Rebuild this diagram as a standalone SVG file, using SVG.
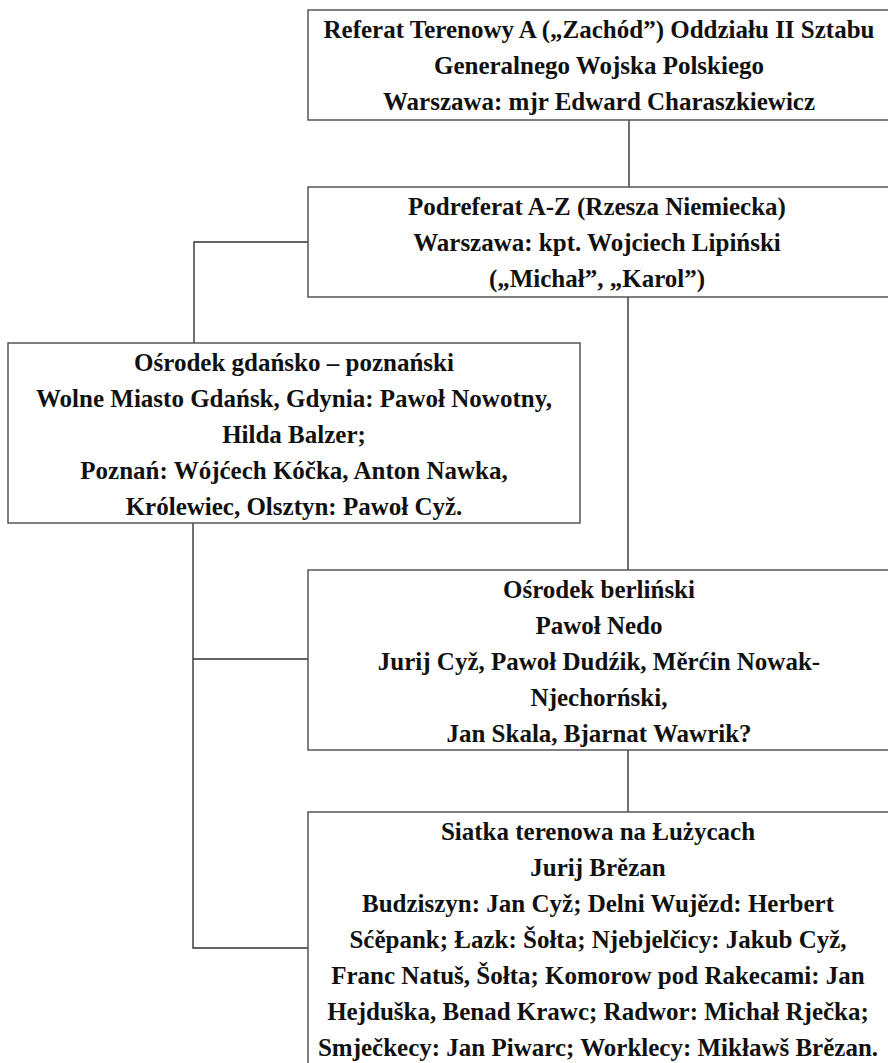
<svg xmlns="http://www.w3.org/2000/svg" width="888" height="1063" viewBox="0 0 888 1063">
<style>
.box{fill:#fff;stroke:#555;stroke-width:1.5}
.t{font-family:"Liberation Serif","Times New Roman",serif;font-weight:bold;font-size:25px;fill:#111;text-anchor:middle}
.c{fill:none;stroke:#333;stroke-width:1.4}
</style>
<rect width="888" height="1063" fill="#fff"/>
<g id="connectors">
<path class="c" d="M629,120V187"/>
<path class="c" d="M308,242H194V343"/>
<path class="c" d="M628,297V570"/>
<path class="c" d="M193,523V948H308M193,659H308"/>
<path class="c" d="M628,750V812"/>
</g>
<g id="n1">
<rect class="box" x="308" y="10" width="600" height="110"/>
<text class="t" x="599" y="38">Referat Terenowy A („Zachód”) Oddziału II Sztabu</text>
<text class="t" x="599" y="74">Generalnego Wojska Polskiego</text>
<text class="t" x="599" y="110">Warszawa: mjr Edward Charaszkiewicz</text>
</g>
<g id="n2">
<rect class="box" x="308" y="187" width="600" height="110"/>
<text class="t" x="597" y="215">Podreferat A-Z (Rzesza Niemiecka)</text>
<text class="t" x="597" y="251">Warszawa: kpt. Wojciech Lipiński</text>
<text class="t" x="597" y="287">(„Michał”, „Karol”)</text>
</g>
<g id="n3">
<rect class="box" x="8" y="343" width="572" height="180"/>
<text class="t" x="294" y="371">Ośrodek gdańsko – poznański</text>
<text class="t" x="294" y="407">Wolne Miasto Gdańsk, Gdynia: Pawoł Nowotny,</text>
<text class="t" x="294" y="443">Hilda Balzer;</text>
<text class="t" x="294" y="479">Poznań: Wójćech Kóčka, Anton Nawka,</text>
<text class="t" x="294" y="515">Królewiec, Olsztyn: Pawoł Cyž.</text>
</g>
<g id="n4">
<rect class="box" x="308" y="570" width="600" height="180"/>
<text class="t" x="599" y="598">Ośrodek berliński</text>
<text class="t" x="599" y="634">Pawoł Nedo</text>
<text class="t" x="599" y="670">Jurij Cyž, Pawoł Dudźik, Měrćin Nowak-</text>
<text class="t" x="599" y="706">Njechorński,</text>
<text class="t" x="599" y="742">Jan Skala, Bjarnat Wawrik?</text>
</g>
<g id="n5">
<rect class="box" x="308" y="812" width="600" height="300"/>
<text class="t" x="598" y="840">Siatka terenowa na Łużycach</text>
<text class="t" x="598" y="876">Jurij Brězan</text>
<text class="t" x="598" y="912">Budziszyn: Jan Cyž; Delni Wujězd: Herbert</text>
<text class="t" x="598" y="948">Sćěpank; Łazk: Šołta; Njebjelčicy: Jakub Cyž,</text>
<text class="t" x="598" y="984">Franc Natuš, Šołta; Komorow pod Rakecami: Jan</text>
<text class="t" x="598" y="1020">Hejduška, Benad Krawc; Radwor: Michał Rječka;</text>
<text class="t" x="598" y="1056">Smječkecy: Jan Piwarc; Worklecy: Mikławš Brězan.</text>
</g>
</svg>
